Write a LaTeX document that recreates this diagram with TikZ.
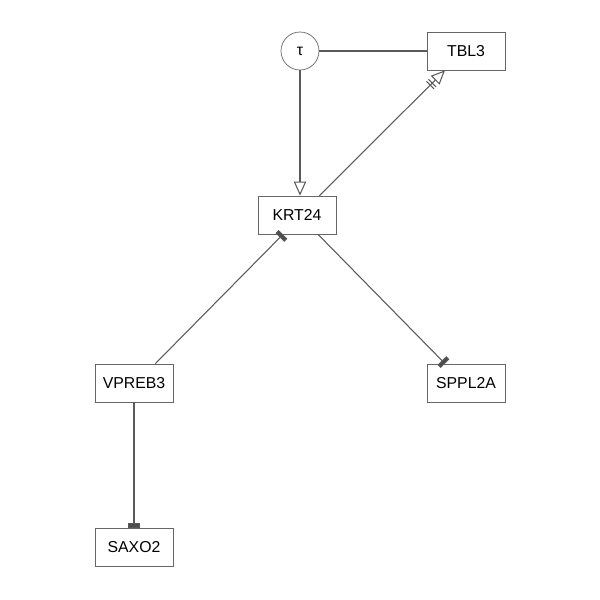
\documentclass[tikz,border=0pt]{standalone}
\usepackage{fontspec}
\setmainfont{Liberation Sans}
\usetikzlibrary{arrows.meta}
\tikzset{
  gene/.style={draw=black!60,fill=white,minimum width=78*0.02cm,minimum height=38*0.02cm,inner sep=0pt,font=\fontsize{9}{11}\selectfont},
  link/.style={draw=black!65,line width=0.6pt},
  inhib/.style={link,-{Rectangle[length=2.5pt,width=7pt,fill=black!70]}},
  activ/.style={link,-{Triangle[open,length=8pt,width=7pt,fill=white]}}
}
\begin{document}
\begin{tikzpicture}[x=0.02cm,y=-0.02cm]
  \useasboundingbox (0,0) rectangle (600,600);
  \node[draw=black!60,circle,minimum size=38*0.02cm,inner sep=0pt,font=\fontsize{9}{11}\selectfont](tau)at(300,51){τ};
  \node[gene](tbl)at(466,51){TBL3};
  \node[gene](krt)at(297,215){KRT24};
  \node[gene](vpreb)at(134,383){VPREB3};
  \node[gene](sppl)at(466,383){SPPL2A};
  \node[gene](saxo)at(134,547){SAXO2};
  \draw[link](tau)--(tbl);
  \draw[activ](tau)--(tau|-krt.north);
  \draw[link,-{Bar[width=6pt,sep=1pt]Bar[width=6pt,sep=2pt]Triangle[open,length=8pt,width=7pt,fill=white]}](krt.north east)++(-17,0)--([xshift=-21*0.02cm]tbl.south);
  \draw[inhib]([xshift=-18*0.02cm]vpreb.north east)--([xshift=-14*0.02cm]krt.south);
  \draw[inhib]([xshift=21*0.02cm]krt.south)--([xshift=-21*0.02cm]sppl.north);
  \draw[inhib](vpreb)--(saxo);
\end{tikzpicture}
\end{document}
